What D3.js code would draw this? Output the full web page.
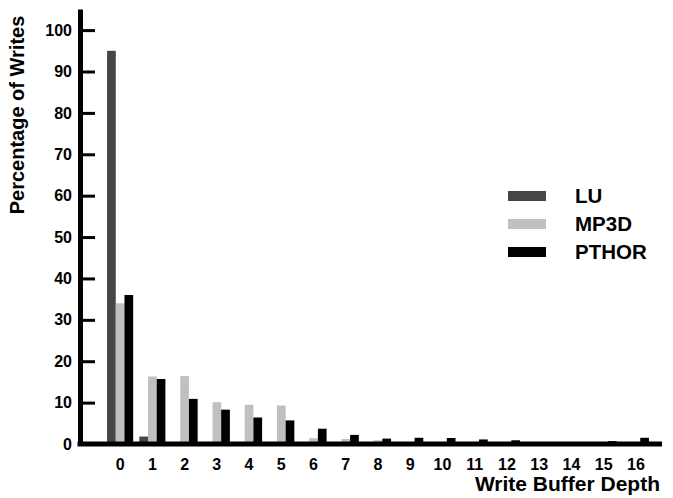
<!DOCTYPE html>
<html>
<head>
<meta charset="utf-8">
<script src="https://cdn.jsdelivr.net/npm/d3@7"></script>
<style>
  body { margin: 0; background: #fff; }
  #graphic text { font-family: "Liberation Sans", Arial, sans-serif; font-weight: bold; fill: #000; }
</style>
</head>
<body>
<div id="graphic"></div>
<script>
// write buffer depth categories
const depths = ["0","1","2","3","4","5","6","7","8","9","10","11","12","13","14","15","16"];

// percentage of writes per benchmark
const lu    = [95, 1.8, 0, 0, 0, 0, 0, 0, 0, 0, 0, 0, 0, 0, 0, 0, 0];
const mp3d  = [34, 16.3, 16.4, 10.1, 9.5, 9.3, 1.4, 1.2, 0.9, 0.3, 0.2, 0.2, 0.1, 0.2, 0.2, 0.1, 0.1];
const pthor = [36, 15.7, 10.9, 8.3, 6.4, 5.7, 3.7, 2.2, 1.3, 1.5, 1.45, 1.1, 0.9, 0.4, 0.4, 0.7, 1.5];

const seriesNames = ["LU", "MP3D", "PTHOR"];
const seriesColors = ["#464646", "#c0c0c0", "#000000"];
const yTicks = [0, 10, 20, 30, 40, 50, 60, 70, 80, 90, 100];

const seriesValues = [lu, mp3d, pthor];

const chart = {
  el: "#graphic",
  outerWidth: 673,
  outerHeight: 498,
  createScales(){
    this.xScale = d3.scaleBand()
      .domain(depths)
      .range([104, 652])
      .paddingInner(0.19)
      .paddingOuter(0.095);

    this.xSub = d3.scaleBand()
      .domain(seriesNames)
      .range([0, this.xScale.bandwidth()]);

    this.yScale = d3.scaleLinear()
      .domain([0, 105.1])
      .range([444, 9]);
  },
  drawPlot(){
    document.querySelector(this.el).innerHTML = "";
    this.svg = d3.select(this.el)
      .append("svg")
      .attr("width", this.outerWidth)
      .attr("height", this.outerHeight);
  },
  drawData(){
    const that = this;
    const rows = depths.map((d, i) => ({
      key: d,
      values: seriesNames.map((s, j) => ({ name: s, value: seriesValues[j][i], color: seriesColors[j] }))
    }));

    const groups = this.svg.append("g")
      .attr("class", "bars")
      .selectAll("g")
      .data(rows)
      .enter()
      .append("g")
      .attr("transform", d => `translate(${that.xScale(d.key)},0)`);

    groups.selectAll("rect")
      .data(d => d.values)
      .enter()
      .append("rect")
      .attr("x", d => that.xSub(d.name))
      .attr("width", that.xSub.bandwidth())
      .attr("y", d => that.yScale(d.value))
      .attr("height", d => that.yScale(0) - that.yScale(d.value))
      .attr("fill", d => d.color);
  },
  drawAxes(){
    const y0 = this.yScale(0);

    // y axis, ticks point into the plot
    const yAxis = d3.axisLeft(this.yScale)
      .tickValues(yTicks)
      .tickSizeInner(-15)
      .tickSizeOuter(0)
      .tickPadding(8);

    const yg = this.svg.append("g")
      .attr("class", "axis yaxis")
      .attr("transform", "translate(80,0)")
      .call(yAxis);
    yg.select(".domain").attr("stroke-width", 5).attr("stroke", "#000");
    yg.selectAll(".tick line").attr("stroke-width", 3).attr("stroke", "#000");
    yg.selectAll(".tick text").style("font-size", "16px");

    // x axis labels only, the base line is drawn thick below
    const xAxis = d3.axisBottom(this.xScale)
      .tickSize(0)
      .tickPadding(26);

    const xg = this.svg.append("g")
      .attr("class", "axis xaxis")
      .attr("transform", `translate(0,${y0})`)
      .call(xAxis);
    xg.select(".domain").remove();
    xg.selectAll(".tick text").style("font-size", "16px").attr("dy", 0);

    this.svg.append("line")
      .attr("x1", 77.5)
      .attr("x2", 662)
      .attr("y1", y0)
      .attr("y2", y0)
      .attr("stroke", "#000")
      .attr("stroke-width", 5);

    // titles
    this.svg.append("text")
      .attr("transform", "translate(24,115) rotate(-90)")
      .attr("text-anchor", "middle")
      .style("font-size", "20px")
      .text("Percentage of Writes");

    this.svg.append("text")
      .attr("x", 660)
      .attr("y", 491)
      .attr("text-anchor", "end")
      .style("font-size", "21px")
      .text("Write Buffer Depth");
  },
  drawLegend(){
    const legend = this.svg.append("g")
      .attr("class", "legend")
      .attr("transform", "translate(508,191)");

    const items = legend.selectAll("g")
      .data(seriesNames)
      .enter()
      .append("g")
      .attr("transform", (d, i) => `translate(0,${i * 28})`);

    items.append("rect")
      .attr("width", 38)
      .attr("height", 10)
      .attr("fill", (d, i) => seriesColors[i]);

    items.append("text")
      .attr("x", 67)
      .attr("y", 12)
      .style("font-size", "20.5px")
      .text(d => d);
  },
  draw(){
    this.createScales();
    this.drawPlot();
    this.drawData();
    this.drawAxes();
    this.drawLegend();
  }
};

chart.draw();
</script>
</body>
</html>
